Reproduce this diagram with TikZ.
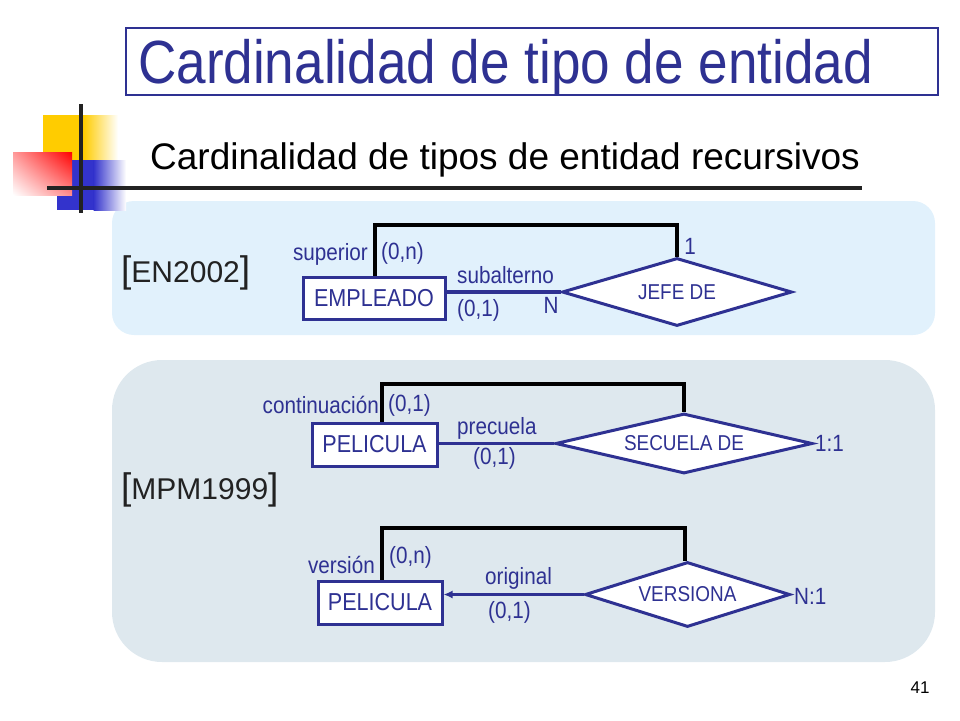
\documentclass[tikz,border=0pt]{standalone}
\usepackage{fontspec}
\setmainfont{Liberation Sans}
\newfontfamily\titlefont[FakeStretch=0.87]{Liberation Sans}
\newfontfamily\erfont[FakeStretch=0.88]{Liberation Sans}
\usepackage{tikz}
\usetikzlibrary{positioning}
\usetikzlibrary{shapes.geometric,arrows.meta,shadings}

\definecolor{erNavy}{RGB}{46,49,146}
\definecolor{panelBlue}{RGB}{225,241,252}
\definecolor{panelGrey}{RGB}{222,232,238}
\definecolor{logoYellow}{RGB}{255,204,0}
\definecolor{logoBlue}{RGB}{51,51,204}
\definecolor{logoRed}{RGB}{255,0,0}
\definecolor{inkGrey}{RGB}{34,34,34}

\newcommand{\refbr}[1]{{\fontsize{37}{37}\selectfont #1}}

\begin{document}
\begin{tikzpicture}[x=1pt,y=-1pt,
	entity/.style={draw=erNavy, line width=3pt, fill=white, text=erNavy,
	               inner sep=0pt, font=\erfont\fontsize{24.5}{26}\selectfont},
	relation/.style={diamond, aspect=3.5, draw=erNavy, line width=3pt, fill=white,
	                 text=erNavy, inner sep=0pt, font=\erfont\fontsize{21.5}{24}\selectfont},
	role/.style={text=erNavy, inner sep=0pt, font=\erfont\fontsize{23.5}{26}\selectfont},
	refmark/.style={text=inkGrey, inner sep=0pt, font=\fontsize{30}{32}\selectfont},
	link/.style={draw=erNavy, line width=3.5pt},
	recur/.style={draw=black, line width=4pt}]

	\useasboundingbox (0,0) rectangle (960,720);

	%Panels
	\fill[panelBlue, rounded corners=22pt] (112,201) rectangle (935,335);
	\fill[panelGrey, rounded corners=50pt] (112,360) rectangle (935,662);

	%Logo
	\fill[logoYellow] (43,115) rectangle (84,160);
	\shade[left color=logoYellow, right color=white] (83.5,115) rectangle (118,160);
	\fill[logoBlue] (57,160) rectangle (94,210);
	\shade[left color=logoBlue, right color=white] (93.5,160) rectangle (126,210);
	\shade[upper right=logoRed, upper left=logoRed!40, lower right=logoRed!45,
	       lower left=white] (13,152) rectangle (72,195);
	\draw[inkGrey, line width=3.5pt] (81,104) -- (81,213);
	\draw[inkGrey, line width=3.5pt] (47,188) -- (862,188);

	%Titles
	\draw[erNavy, line width=1.2pt] (126,28) rectangle (938,95);
	\node[anchor=base west, inner sep=0pt, text=erNavy,
	      font=\titlefont\fontsize{61}{62}\selectfont] (Title) at (138,83)
	      {Cardinalidad de tipo de entidad};
	\node[anchor=base west, inner sep=0pt, text=black,
	      font=\fontsize{37}{40}\selectfont] (SubTitle) at (150,169)
	      {Cardinalidad de tipos de entidad recursivos};

	%References
	\node[refmark, anchor=west] (RefEN) at (121,273) {\refbr{[}EN2002\refbr{]}};
	\node[refmark, anchor=west] (RefMPM) at (121,490) {\refbr{[}MPM1999\refbr{]}};

	%%%%%%%%%%%%%%%%%%%%%%%%%%%%%%%%%%%%%%%%%%%%%%%%%%%%
	%Diagram EN2002
	\node[entity, minimum width=142pt, minimum height=42pt] (Emp) at (374,298) {EMPLEADO};
	\node[relation, minimum width=230pt, minimum height=68pt] (JefeDe) at (677,292) {JEFE DE};
	\coordinate (TopA) at (0,225);

	\draw[link] (JefeDe.west) -- (JefeDe.west -| Emp.east);
	\draw[recur] ([xshift=1pt]Emp.north) -- ([xshift=1pt]Emp.north |- TopA) -| (JefeDe.north);

	\node[role, anchor=east] (SupA) at (368,254) {superior};
	\node[role, anchor=west] (CardSupA) at (381,253) {(0,n)};
	\node[role, anchor=west] (SubA) at (457,275) {subalterno};
	\node[role, anchor=west] (CardSubA) at (457,310) {(0,1)};
	\node[role] (MultN) at (551,305) {N};
	\node[role] (Mult1) at (690,246) {1};

	%%%%%%%%%%%%%%%%%%%%%%%%%%%%%%%%%%%%%%%%%%%%%%%%%%%%
	%Diagram MPM1999: secuela
	\node[entity, minimum width=125pt, minimum height=43pt] (Pel1) at (374.5,444.5) {PELICULA};
	\node[relation, minimum width=257pt, minimum height=60pt] (SecDe) at (684,443.5) {SECUELA DE};
	\coordinate (TopB) at (0,384);

	\draw[link] (SecDe.west) -- (SecDe.west -| Pel1.east);
	\draw[recur] ([xshift=7.5pt]Pel1.north) -- ([xshift=7.5pt]Pel1.north |- TopB) -| (SecDe.north);

	\node[role, anchor=east] (ContB) at (379,405) {continuación};
	\node[role, anchor=west] (CardContB) at (388,405) {(0,1)};
	\node[role, anchor=west] (PreB) at (457,428) {precuela};
	\node[role, anchor=west] (CardPreB) at (473,458) {(0,1)};
	\node[role, anchor=west] (RatioB) at (815,443) {1:1};

	%%%%%%%%%%%%%%%%%%%%%%%%%%%%%%%%%%%%%%%%%%%%%%%%%%%%
	%Diagram MPM1999: versiona
	\node[entity, minimum width=124pt, minimum height=43pt] (Pel2) at (380,602.5) {PELICULA};
	\node[relation, minimum width=205pt, minimum height=65pt] (Vers) at (687.5,594.5) {VERSIONA};
	\coordinate (TopC) at (0,528);

	\draw[link, -{Latex[length=9pt,width=8pt]}] (Vers.west) -- (Vers.west -| Pel2.east);
	\draw[recur] ([xshift=2pt]Pel2.north) -- ([xshift=2pt]Pel2.north |- TopC) -| ([xshift=-2.5pt]Vers.north);

	\node[role, anchor=east] (VerC) at (375,565) {versión};
	\node[role, anchor=west] (CardVerC) at (389,557) {(0,n)};
	\node[role, anchor=west] (OrigC) at (485,578) {original};
	\node[role, anchor=west] (CardOrigC) at (488,612) {(0,1)};
	\node[role, anchor=west] (RatioC) at (794,596) {N:1};

	%Page
	\node[font=\fontsize{17}{18}\selectfont] (PageNo) at (920,688) {41};

\end{tikzpicture}
\end{document}
